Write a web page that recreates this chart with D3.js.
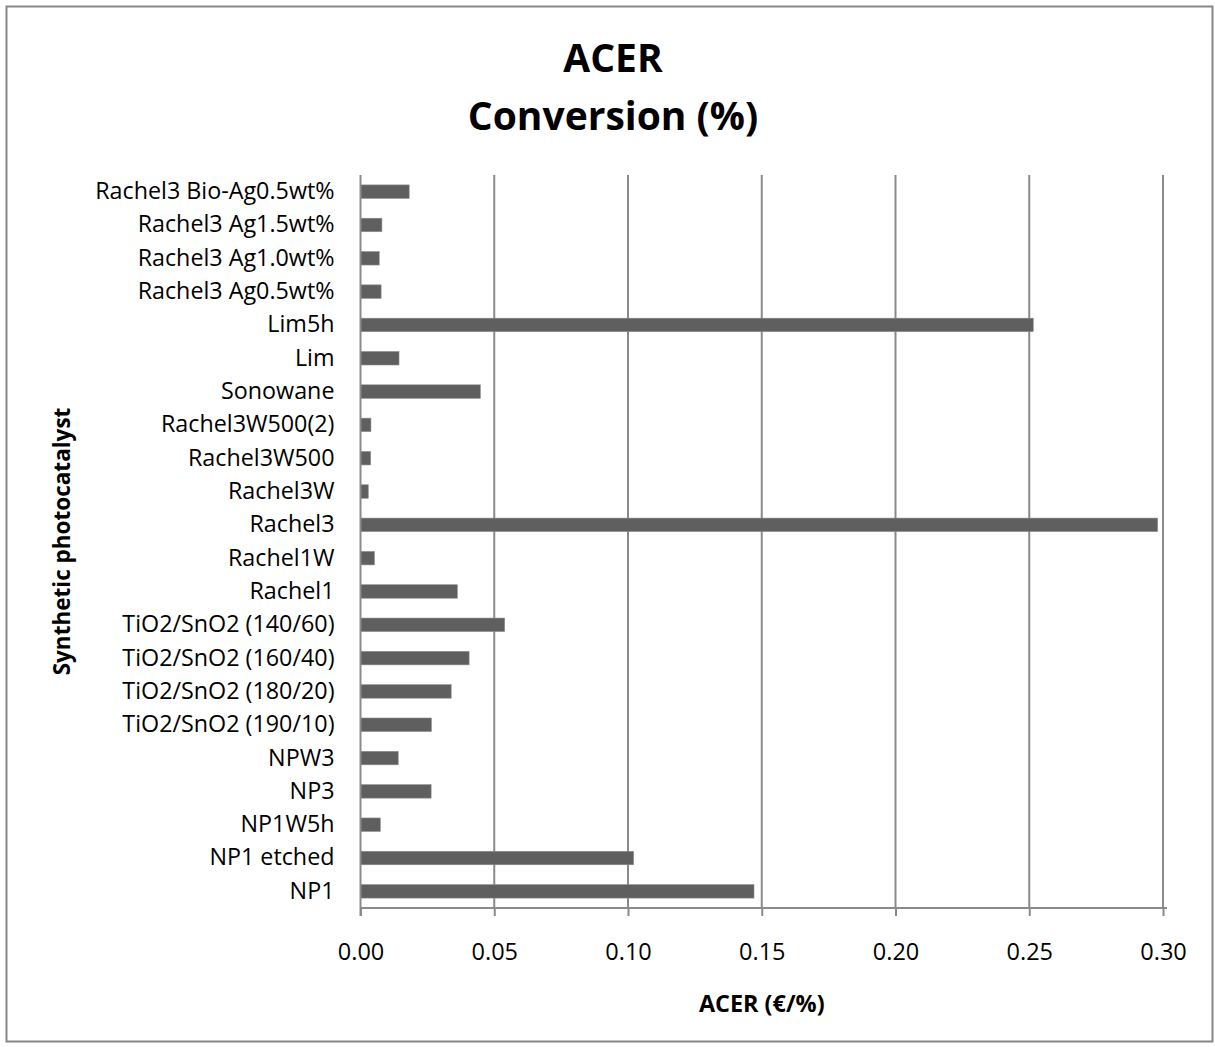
<!DOCTYPE html>
<html>
<head>
<meta charset="utf-8">
<script src="https://cdn.jsdelivr.net/npm/d3@7"></script>
<style>
  html, body { margin: 0; padding: 0; background: #fff; }
  svg { display: block; }
  text { font-family: "Open Sans", Lato, sans-serif; fill: #000; }
</style>
</head>
<body>
<svg id="chart" width="1215" height="1047"></svg>
<script>
// Catalysts, listed bottom to top as they appear on the axis
const categories = [
  "NP1", "NP1 etched", "NP1W5h", "NP3", "NPW3",
  "TiO2/SnO2 (190/10)", "TiO2/SnO2 (180/20)", "TiO2/SnO2 (160/40)", "TiO2/SnO2 (140/60)",
  "Rachel1", "Rachel1W", "Rachel3", "Rachel3W", "Rachel3W500", "Rachel3W500(2)",
  "Sonowane", "Lim", "Lim5h",
  "Rachel3 Ag0.5wt%", "Rachel3 Ag1.0wt%", "Rachel3 Ag1.5wt%", "Rachel3 Bio-Ag0.5wt%"
];
// ACER (€/%) for each catalyst
const acerValues = [
  0.1471, 0.1021, 0.0074, 0.0264, 0.0141,
  0.0265, 0.0339, 0.0406, 0.0539,
  0.0362, 0.0052, 0.2980, 0.0029, 0.0038, 0.0039,
  0.0448, 0.0144, 0.2515,
  0.0077, 0.0070, 0.0080, 0.0182
];
const xTicks = [0, 0.05, 0.10, 0.15, 0.20, 0.25, 0.30];
const titleLines = ["ACER", "Conversion (%)"];
const xTitle = "ACER (€/%)";
const yTitle = "Synthetic photocatalyst";

const FONT = "'Open Sans', Lato, sans-serif";
const svg = d3.select("#chart");
const W = 1215, H = 1047;
const plot = { left: 360.5, right: 1163, top: 175, bottom: 908 };

// outer chart frame
svg.append("rect")
  .attr("x", 6.5).attr("y", 6.5)
  .attr("width", W - 9).attr("height", H - 12)
  .attr("fill", "#fff").attr("stroke", "#878787").attr("stroke-width", 2);

const x = d3.scaleLinear().domain([0, 0.30]).range([plot.left, plot.right]);
const y = d3.scaleBand()
  .domain(categories.slice().reverse())
  .range([plot.top, plot.bottom])
  .paddingInner(0.595).paddingOuter(0.2975);

// vertical gridlines
svg.append("g")
  .selectAll("line")
  .data(xTicks.slice(1))
  .join("line")
  .attr("x1", d => x(d)).attr("x2", d => x(d))
  .attr("y1", plot.top).attr("y2", plot.bottom)
  .attr("stroke", "#8a8a8a").attr("stroke-width", 2);

// bars
const data = categories.map((c, i) => ({ c, v: acerValues[i] }));
svg.append("g")
  .selectAll("rect")
  .data(data)
  .join("rect")
  .attr("x", x(0))
  .attr("y", d => y(d.c))
  .attr("width", d => x(d.v) - x(0))
  .attr("height", y.bandwidth())
  .attr("fill", "#5f5f5f")
  .attr("stroke", "#8d8d8d").attr("stroke-width", 0.6);

// x axis with ticks below the baseline
const xAxis = d3.axisBottom(x)
  .tickValues(xTicks)
  .tickFormat(d3.format(".2f"))
  .tickSize(8).tickSizeOuter(0).tickPadding(27);
const gx = svg.append("g")
  .attr("transform", `translate(0,${plot.bottom})`)
  .call(xAxis);
gx.select(".domain").attr("stroke", "#8a8a8a").attr("stroke-width", 2)
  .attr("d", `M${plot.left},0H${W - 48}`);
gx.selectAll(".tick line").attr("stroke", "#8a8a8a").attr("stroke-width", 2);
gx.selectAll(".tick text")
  .style("font-family", FONT)
  .attr("font-size", 23.5).attr("fill", "#000");

// y axis line and category labels
const yAxis = d3.axisLeft(y).tickSize(0).tickPadding(26);
const gy = svg.append("g")
  .attr("transform", `translate(${plot.left},0)`)
  .call(yAxis);
gy.select(".domain").attr("stroke", "#8a8a8a").attr("stroke-width", 2)
  .attr("d", `M0,${plot.top}V${plot.bottom + 8}`);
gy.selectAll(".tick text")
  .style("font-family", FONT)
  .attr("font-size", 23.3).attr("fill", "#000");

// title
svg.append("g")
  .selectAll("text")
  .data(titleLines)
  .join("text")
  .attr("x", 613)
  .attr("y", (d, i) => 72 + i * 58)
  .attr("text-anchor", "middle")
  .attr("font-size", 39).attr("font-weight", "bold")
  .text(d => d);

// axis titles
svg.append("text")
  .attr("x", (plot.left + plot.right) / 2)
  .attr("y", 1012)
  .attr("text-anchor", "middle")
  .attr("font-size", 23.4).attr("font-weight", "bold")
  .text(xTitle);

svg.append("text")
  .attr("transform", `translate(70,${(plot.top + plot.bottom) / 2}) rotate(-90)`)
  .attr("text-anchor", "middle")
  .attr("font-size", 22.5).attr("font-weight", "bold")
  .text(yTitle);
</script>
</body>
</html>
